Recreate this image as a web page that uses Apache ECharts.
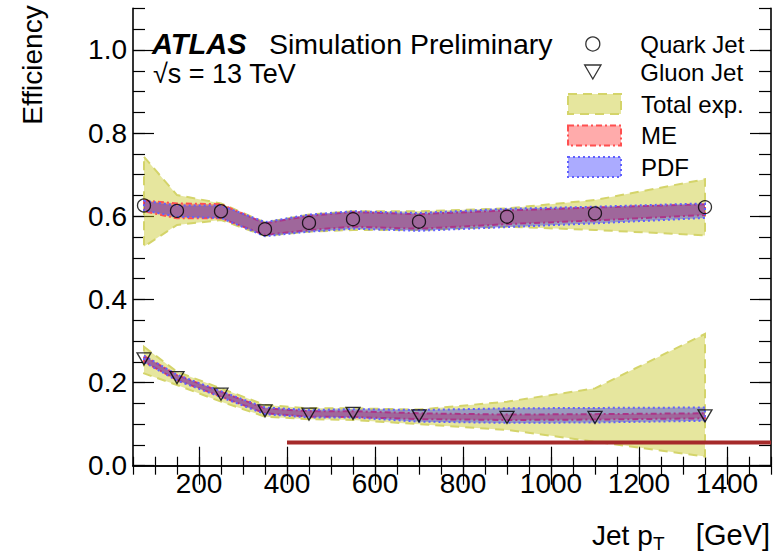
<!DOCTYPE html>
<html>
<head>
<meta charset="utf-8">
<script src="https://cdn.jsdelivr.net/npm/echarts@6/dist/echarts.min.js"></script>
<style>
html,body{margin:0;padding:0;background:#fff;}
#chart{width:773px;height:555px;}
</style>
</head>
<body>
<div id="chart"></div>
<script>
// ---- data ----
const ptBins = [75, 150, 250, 350, 450, 550, 700, 900, 1100, 1350];
const quarkEff = [0.626, 0.613, 0.612, 0.569, 0.584, 0.593, 0.587, 0.599, 0.607, 0.622];
const gluonEff = [0.257, 0.212, 0.172, 0.132, 0.124, 0.126, 0.120, 0.116, 0.116, 0.120];

const quarkTotLo = [0.527, 0.579, 0.591, 0.553, 0.563, 0.567, 0.567, 0.575, 0.567, 0.554];
const quarkTotHi = [0.743, 0.651, 0.631, 0.585, 0.604, 0.612, 0.612, 0.619, 0.639, 0.689];
const quarkMeLo  = [0.612, 0.595, 0.595, 0.555, 0.567, 0.575, 0.570, 0.581, 0.590, 0.603];
const quarkMeHi  = [0.638, 0.631, 0.629, 0.583, 0.601, 0.610, 0.605, 0.614, 0.621, 0.629];
const quarkPdfLo = [0.614, 0.599, 0.596, 0.552, 0.563, 0.570, 0.565, 0.574, 0.583, 0.596];
const quarkPdfHi = [0.637, 0.626, 0.626, 0.586, 0.604, 0.612, 0.608, 0.618, 0.623, 0.631];

const gluonTotLo = [0.222, 0.194, 0.154, 0.118, 0.112, 0.110, 0.100, 0.086, 0.058, 0.022];
const gluonTotHi = [0.286, 0.226, 0.186, 0.146, 0.138, 0.138, 0.135, 0.154, 0.186, 0.317];
const gluonMeLo  = [0.250, 0.206, 0.166, 0.126, 0.118, 0.117, 0.112, 0.110, 0.111, 0.114];
const gluonMeHi  = [0.264, 0.218, 0.178, 0.138, 0.131, 0.131, 0.126, 0.123, 0.124, 0.126];
const gluonPdfLo = [0.249, 0.205, 0.165, 0.124, 0.116, 0.116, 0.106, 0.103, 0.104, 0.108];
const gluonPdfHi = [0.265, 0.219, 0.179, 0.140, 0.134, 0.136, 0.134, 0.138, 0.139, 0.140];

const refLineX = [400, 1500];
const refLineY = [0.056, 0.056];

const xMajorTicks = [200, 400, 600, 800, 1000, 1200, 1400];
const yMajorTicks = [0, 0.2, 0.4, 0.6, 0.8, 1.0];

// ---- styles ----
const FONT = '"Liberation Sans", Arial, Helvetica, sans-serif';
const totFill = 'rgba(200,200,40,0.45)', totEdge = '#d4d46a';
const meFill = 'rgba(255,0,0,0.33)', meEdge = '#ff5050';
const pdfFill = 'rgba(0,0,255,0.33)', pdfEdge = '#6060ff';
const totDash = [9, 6], meDash = [6, 3, 2, 3], pdfDash = [2, 3];
const triPath = 'path://M0,0L14,0L7,12Z';

function band(name, lo, hi, fill, stroke, dash, z) {
  return {
    type: 'custom', name: name, xAxisIndex: 0, yAxisIndex: 0, z: z, silent: true, clip: true,
    itemStyle: {color: fill},
    data: ptBins.map((x, i) => [x, lo[i], hi[i]]),
    encode: {x: 0, y: [1, 2]},
    renderItem: function (params, api) {
      if (params.dataIndex !== 0) return null;
      const pts = [];
      for (let i = 0; i < ptBins.length; i++) pts.push(api.coord([ptBins[i], hi[i]]));
      for (let i = ptBins.length - 1; i >= 0; i--) pts.push(api.coord([ptBins[i], lo[i]]));
      return {type: 'polygon', shape: {points: pts},
        style: {fill: fill, stroke: stroke, lineWidth: 2, lineDash: dash}};
    }
  };
}

function xAx(pos, major) {
  return {
    type: 'value', position: pos, min: 50, max: 1500,
    interval: major ? undefined : 50,
    axisLine: {show: major, lineStyle: {color: '#000', width: 1.6}},
    axisTick: major
      ? {show: true, inside: true, length: 19, customValues: xMajorTicks, lineStyle: {color: '#000', width: 1.2}}
      : {show: true, inside: true, length: 9, lineStyle: {color: '#000', width: 1.2}},
    axisLabel: (major && pos === 'bottom')
      ? {show: true, customValues: xMajorTicks, fontSize: 28, fontFamily: FONT, color: '#000', margin: 4,
         formatter: v => String(v)}
      : {show: false},
    splitLine: {show: false}
  };
}
function yAx(pos, major) {
  return {
    type: 'value', position: pos, min: 0, max: 1.1,
    interval: major ? undefined : 0.05,
    axisLine: {show: major, lineStyle: {color: '#000', width: 1.6}},
    axisTick: major
      ? {show: true, inside: true, length: 21, customValues: yMajorTicks, lineStyle: {color: '#000', width: 1.2}}
      : {show: true, inside: true, length: 12, lineStyle: {color: '#000', width: 1.2}},
    axisLabel: (major && pos === 'left')
      ? {show: true, customValues: yMajorTicks, fontSize: 28, fontFamily: FONT, color: '#000', margin: 6,
         formatter: v => v.toFixed(1)}
      : {show: false},
    splitLine: {show: false}
  };
}

const chart = echarts.init(document.getElementById('chart'), null, {renderer: 'svg'});
chart.setOption({
  animation: false,
  backgroundColor: '#fff',
  grid: {left: 133, right: 2, top: 8.4, bottom: 89.3},
  xAxis: [xAx('bottom', true), xAx('bottom', false), xAx('top', true), xAx('top', false)],
  yAxis: [yAx('left', true), yAx('left', false), yAx('right', true), yAx('right', false)],
  legend: [
    {
      left: 584, top: 32, padding: 0, orient: 'vertical', itemWidth: 53, itemHeight: 14, itemGap: 4,
      selectedMode: false,
      textStyle: {fontSize: 24, fontFamily: FONT, color: '#000', lineHeight: 20, padding: [0, 0, 0, 16]},
      data: [
        {name: 'Quark Jet', icon: 'circle', itemStyle: {color: 'rgba(0,0,0,0)', borderColor: '#000', borderWidth: 1.3}},
        {name: 'Gluon Jet', icon: triPath, itemStyle: {color: 'rgba(0,0,0,0)', borderColor: '#000', borderWidth: 1.3}}
      ]
    },
    {
      left: 567, top: 92, padding: 0, orient: 'vertical', itemWidth: 53, itemHeight: 20, itemGap: 7.5,
      selectedMode: false,
      textStyle: {fontSize: 24, fontFamily: FONT, color: '#000', lineHeight: 20, padding: [0, 0, 0, 15]},
      data: [
        {name: 'Total exp.', icon: 'rect', itemStyle: {color: totFill, borderColor: totEdge, borderWidth: 2, borderType: totDash}},
        {name: 'ME', icon: 'rect', itemStyle: {color: meFill, borderColor: meEdge, borderWidth: 2, borderType: meDash}},
        {name: 'PDF', icon: 'rect', itemStyle: {color: pdfFill, borderColor: pdfEdge, borderWidth: 2, borderType: pdfDash}}
      ]
    }
  ],
  series: [
    band('Total exp.', quarkTotLo, quarkTotHi, totFill, totEdge, totDash, 1),
    band('Total exp.', gluonTotLo, gluonTotHi, totFill, totEdge, totDash, 1),
    band('ME', quarkMeLo, quarkMeHi, meFill, meEdge, meDash, 2),
    band('ME', gluonMeLo, gluonMeHi, meFill, meEdge, meDash, 2),
    band('PDF', quarkPdfLo, quarkPdfHi, pdfFill, pdfEdge, pdfDash, 3),
    band('PDF', gluonPdfLo, gluonPdfHi, pdfFill, pdfEdge, pdfDash, 3),
    {
      type: 'line', name: 'ref', xAxisIndex: 0, yAxisIndex: 0, z: 4, silent: true,
      data: refLineX.map((x, i) => [x, refLineY[i]]),
      showSymbol: false, symbol: 'none',
      lineStyle: {color: '#a52a2a', width: 4}
    },
    {
      type: 'scatter', name: 'Quark Jet', xAxisIndex: 0, yAxisIndex: 0, z: 5, silent: true,
      symbol: 'circle', symbolSize: 13,
      itemStyle: {color: 'rgba(0,0,0,0)', borderColor: '#000', borderWidth: 1.3},
      data: ptBins.map((x, i) => [x, quarkEff[i]])
    },
    {
      type: 'scatter', name: 'Gluon Jet', xAxisIndex: 0, yAxisIndex: 0, z: 5, silent: true,
      symbol: triPath, symbolSize: [14, 12],
      itemStyle: {color: 'rgba(0,0,0,0)', borderColor: '#000', borderWidth: 1.3},
      data: ptBins.map((x, i) => [x, gluonEff[i]])
    }
  ],
  graphic: [
    {type: 'text', x: 152, y: 43.5, z: 10,
     style: {text: 'ATLAS', font: 'italic bold 29px ' + FONT, fill: '#000', align: 'left', verticalAlign: 'middle'}},
    {type: 'text', x: 269, y: 43.5, z: 10,
     style: {text: 'Simulation Preliminary', font: '28.5px ' + FONT, fill: '#000', align: 'left', verticalAlign: 'middle'}},
    {type: 'text', x: 153, y: 74, z: 10,
     style: {text: '\u221As = 13 TeV', font: '27px ' + FONT, fill: '#000', align: 'left', verticalAlign: 'middle'}},
    {type: 'text', x: 32, y: 65, rotation: Math.PI / 2, z: 10,
     style: {text: 'Efficiency', font: '28px ' + FONT, fill: '#000', align: 'center', verticalAlign: 'middle'}},
    {type: 'text', x: 770, y: 535, z: 10,
     style: {text: '[GeV]', font: '29px ' + FONT, fill: '#000', align: 'right', verticalAlign: 'middle'}},
    {type: 'text', x: 653, y: 543, z: 10,
     style: {text: 'T', font: '19px ' + FONT, fill: '#000', align: 'left', verticalAlign: 'middle'}},
    {type: 'text', x: 592, y: 535, z: 10,
     style: {text: 'Jet p', font: '28px ' + FONT, fill: '#000', align: 'left', verticalAlign: 'middle'}}
  ]
});
</script>
</body>
</html>
